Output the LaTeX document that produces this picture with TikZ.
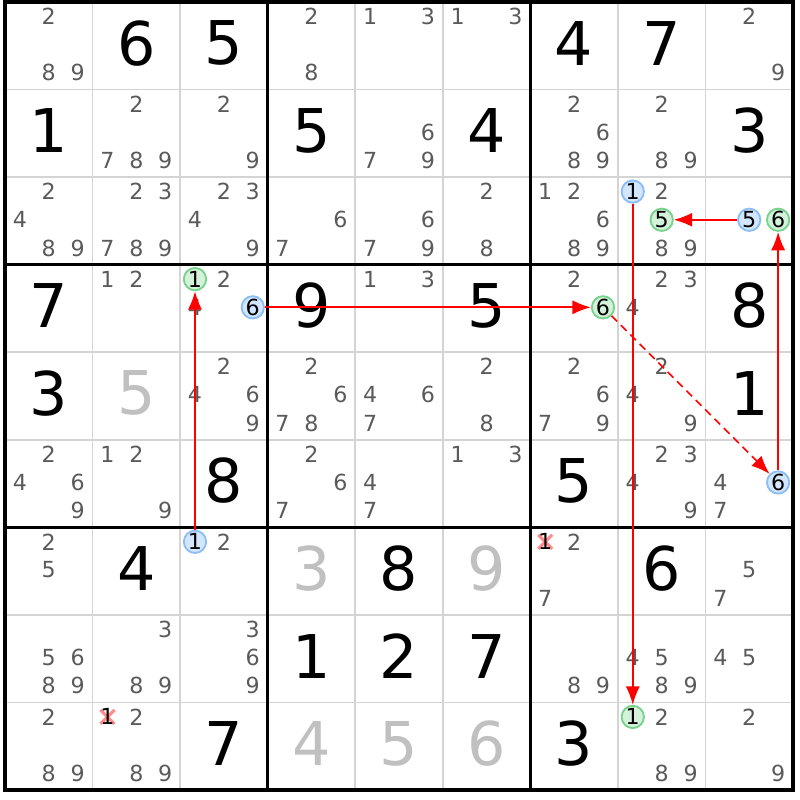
\documentclass[tikz,border=0pt]{standalone}
\usepackage{fontspec}
\setmainfont{DejaVu Sans}
\usepackage{xcolor}
\usetikzlibrary{arrows.meta}

\definecolor{candgray}{RGB}{90,90,90}
\definecolor{solvedgray}{RGB}{192,192,192}
\definecolor{cellgray}{RGB}{212,212,212}
\definecolor{bluefill}{RGB}{210,230,255}
\definecolor{bluedraw}{RGB}{140,190,245}
\definecolor{greenfill}{RGB}{212,242,218}
\definecolor{greendraw}{RGB}{120,210,140}
\definecolor{linkred}{RGB}{255,0,0}
\definecolor{crossred}{RGB}{255,140,140}

\begin{document}
\begin{tikzpicture}[
            x=1cm, y=-1cm,
            cellline/.style={draw=cellgray, line width=0.5pt},
            boxline/.style={draw=black, line width=1pt},
            given/.style={font=\fontsize{19.6}{22}\selectfont, text=black, inner sep=0pt},
            solved/.style={given, text=solvedgray},
            cand/.style={font=\fontsize{7.2}{8}\selectfont, text=candgray, inner sep=0pt},
            bluecand/.style={cand, text=black, circle, draw=bluedraw, fill=bluefill, line width=0.6pt, minimum size=0.255cm},
            greencand/.style={bluecand, draw=greendraw, fill=greenfill},
            cross/.style={draw=crossred, line width=1pt},
            link/.style={-{Latex[length=6pt, width=4.6pt]}, draw=linkred, line width=0.6pt},
            weaklink/.style={link, line width=0.5pt, dash pattern=on 2.6pt off 1.7pt}
        ]
        \fill[white] (-0.057,-0.023) rectangle (9.08,9.114);
        \useasboundingbox (-0.057,-0.023) rectangle (9.08,9.114);

        % grid
        \foreach \i in {1,2,4,5,7,8}
            \draw[cellline] (\i,0) -- (\i,9) (0,\i) -- (9,\i);
        \foreach \i in {3,6}
            \draw[boxline] (\i,0) -- (\i,9) (0,\i) -- (9,\i);
        \draw[boxline] (0,0) rectangle (9,9);

        % givens and solved cells
        \foreach \Row/\Col/\Digit in {1/2/6, 1/3/5, 1/7/4, 1/8/7, 2/1/1, 2/4/5, 2/6/4, 2/9/3,
                4/1/7, 4/4/9, 4/6/5, 4/9/8, 5/1/3, 5/9/1, 6/3/8, 6/7/5,
                7/2/4, 7/5/8, 7/8/6, 8/4/1, 8/5/2, 8/6/7, 9/3/7, 9/7/3}
            \node[given] at (\Col-0.5, \Row-0.53) {\Digit};
        \foreach \Row/\Col/\Digit in {5/2/5, 7/4/3, 7/6/9, 9/4/4, 9/5/5, 9/6/6}
            \node[solved] at (\Col-0.5, \Row-0.53) {\Digit};

        % pencil marks
        \foreach \Row/\Col/\Digits in {1/1/{2,8,9}, 1/4/{2,8}, 1/5/{1,3}, 1/6/{1,3}, 1/9/{2,9},
                2/2/{2,7,8,9}, 2/3/{2,9}, 2/5/{6,7,9}, 2/7/{2,6,8,9}, 2/8/{2,8,9},
                3/1/{2,4,8,9}, 3/2/{2,3,7,8,9}, 3/3/{2,3,4,9}, 3/4/{6,7}, 3/5/{6,7,9},
                3/6/{2,8}, 3/7/{1,2,6,8,9}, 3/8/{2,8,9},
                4/2/{1,2}, 4/3/{2,4}, 4/5/{1,3}, 4/7/{2}, 4/8/{2,3,4},
                5/3/{2,4,6,9}, 5/4/{2,6,7,8}, 5/5/{4,6,7}, 5/6/{2,8}, 5/7/{2,6,7,9}, 5/8/{2,4,9},
                6/1/{2,4,6,9}, 6/2/{1,2,9}, 6/4/{2,6,7}, 6/5/{4,7}, 6/6/{1,3}, 6/8/{2,3,4,9}, 6/9/{4,7},
                7/1/{2,5}, 7/3/{2}, 7/7/{2,7}, 7/9/{5,7},
                8/1/{5,6,8,9}, 8/2/{3,8,9}, 8/3/{3,6,9}, 8/7/{8,9}, 8/8/{4,5,8,9}, 8/9/{4,5},
                9/1/{2,8,9}, 9/2/{2,8,9}, 9/8/{2,8,9}, 9/9/{2,9}}
            \foreach \Digit in \Digits
                \node[cand] at ({\Col-0.83+0.33*mod(\Digit-1,3)}, {\Row-0.835+0.322*div(\Digit-1,3)}) {\Digit};

        % eliminated candidates
        \foreach \Row/\Col in {7/7, 9/2} {
            \coordinate (x\Row\Col) at (\Col-0.83, \Row-0.835);
            \draw[cross] (x\Row\Col) +(-0.08,-0.08) -- +(0.08,0.08)
                +(-0.08,0.08) -- +(0.08,-0.08);
            \node[cand, text=black] at (x\Row\Col) {1};
        }

        % chain candidates
        \foreach \Row/\Col/\Digit/\Kind in {3/8/1/bluecand, 3/9/5/bluecand, 4/3/6/bluecand,
                6/9/6/bluecand, 7/3/1/bluecand, 3/8/5/greencand, 3/9/6/greencand,
                4/3/1/greencand, 4/7/6/greencand, 9/8/1/greencand}
            \node[\Kind] (n\Row\Col\Digit) at ({\Col-0.83+0.33*mod(\Digit-1,3)}, {\Row-0.835+0.322*div(\Digit-1,3)}) {\Digit};

        \foreach \From/\To in {n395/n385, n696/n396, n436/n476, n731/n431, n381/n981}
            \draw[link] (\From) -- (\To);
        \draw[weaklink] (n476) -- (n696);
    \end{tikzpicture}
\end{document}
